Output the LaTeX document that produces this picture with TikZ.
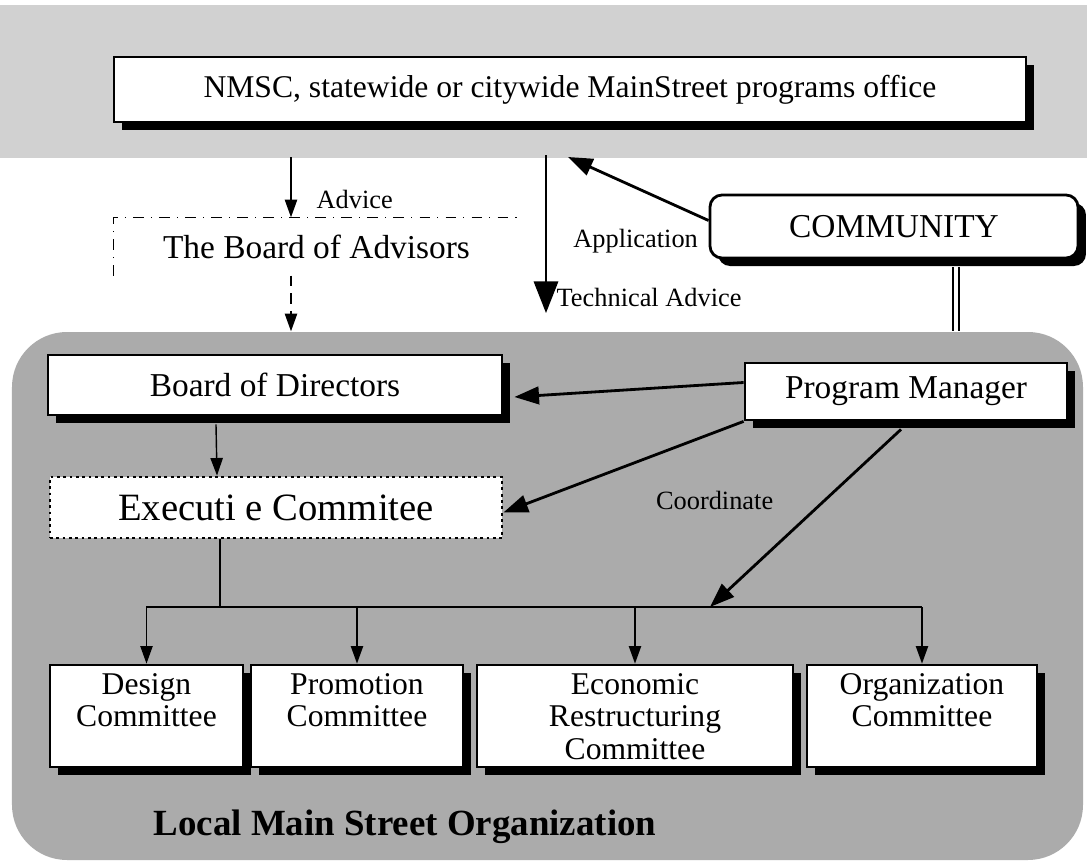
\documentclass[tikz,border=0pt]{standalone}
\usepackage{fontspec}
\setmainfont{Liberation Serif}
\usetikzlibrary{arrows.meta}
\usetikzlibrary{positioning}
\usetikzlibrary{shadows}

\begin{document}
\begin{tikzpicture}[
		box/.style={draw, thick, fill=white, inner sep=0pt, font=\fontsize{9.5}{10}\selectfont,
			drop shadow={shadow xshift=0.08cm, shadow yshift=-0.08cm, fill=black, opacity=1}},
		combox/.style={box, minimum height=1.02cm},
		comtext/.style={align=center, inner sep=0pt, font=\fontsize{9}{9.3}\selectfont},
		lbl/.style={inner sep=0pt, font=\fontsize{7.5}{9}\selectfont},
		flow/.style={-{Triangle[width=3.5pt,length=5pt]}},
		bold/.style={thick, -{Triangle[width=5pt,length=7pt]}},
	]
	\useasboundingbox (0,0) rectangle (10.87,-8.66);

	% shaded areas
	\fill[black!18] (0,-0.05) rectangle (10.87,-1.58);
	\node[fill=black!33, rounded corners=0.55cm, minimum width=10.71cm, minimum height=5.28cm, inner sep=0pt] (local) at (5.475,-5.96) {};
	\node[font=\bfseries\fontsize{10.5}{12}\selectfont] (locallbl) at (4.05,-8.27) {Local Main Street Organization};

	\node[box, minimum width=9.12cm, minimum height=0.65cm, font=\fontsize{9}{10}\selectfont] (nmsc) at (5.7,-0.895) {NMSC, statewide or citywide MainStreet programs office};

	\coordinate (advtop) at (2.91,-1.57);
	\coordinate (techtop) at (5.46,-1.55);
	\coordinate (techtip) at (5.46,-3.13);
	\coordinate (apptip) at (5.68,-1.57);
	\coordinate (bus) at (0,-6.07);
	\coordinate (bushit) at (7.10,-6.07);

	% advisors
	\node[minimum width=4.04cm, minimum height=0.57cm, inner sep=0pt, font=\fontsize{9.5}{10}\selectfont] (advisors) at (3.165,-2.465) {The Board of Advisors};
	\draw[dash dot] (advisors.south west) -- (advisors.north west) -- (advisors.north east);
	\draw[flow] (advtop) -- (advtop |- advisors.north) node[lbl, pos=0.7, right=0.25cm] (advlbl) {Advice};
	\draw[flow, densely dashed] (advtop |- advisors.south) -- (advtop |- local.north);

	\draw[-{Triangle[width=7pt,length=9pt]}] (techtop) -- (techtip) node[lbl, pos=0.9, right=0.1cm] (techlbl) {Technical Advice};

	\node[box, rounded corners=0.12cm, minimum width=3.68cm, minimum height=0.63cm] (community) at (8.94,-2.265) {COMMUNITY};
	\draw[bold] ([yshift=0.06cm]community.west) -- (apptip);
	\node[lbl, left=0.1cm of community.west, yshift=-0.15cm] (applbl) {Application};
	\draw[double, double distance=1.3pt] ([xshift=0.62cm,yshift=-0.08cm]community.south) -- ([xshift=0.62cm]community.south |- local.north);

	% local organisation
	\node[box, minimum width=4.54cm, minimum height=0.6cm] (bod) at (2.75,-3.85) {Board of Directors};
	\node[box, minimum width=3.22cm, minimum height=0.57cm] (pm) at (9.06,-3.915) {Program Manager};
	\node[draw, thick, densely dotted, fill=white, minimum width=4.52cm, minimum height=0.61cm, inner sep=0pt, font=\fontsize{11}{12}\selectfont] (exec) at (2.76,-5.075) {Executi e Commitee};

	\draw[bold] ([yshift=0.09cm]pm.west) -- ([xshift=0.11cm,yshift=-0.12cm]bod.east);
	\draw[flow] ([xshift=-0.59cm,yshift=-0.08cm]bod.south) -- ([xshift=-0.59cm]exec.north);
	\draw[bold] (pm.south west) -- ([yshift=-0.05cm]exec.east);
	\draw[bold] ([xshift=-0.05cm,yshift=-0.08cm]pm.south) -- (bushit) node[lbl, pos=0.4, left=0.5cm] (coordlbl) {Coordinate};

	% committees
	\node[combox, minimum width=1.93cm] (design) at (1.465,-7.16) {};
	\node[combox, minimum width=2.12cm] (promotion) at (3.57,-7.16) {};
	\node[combox, minimum width=3.16cm] (economic) at (6.35,-7.16) {};
	\node[combox, minimum width=2.30cm] (organization) at (9.22,-7.16) {};
	\node[comtext, below=0.09cm of design.north] (designtxt) {Design\\Committee};
	\node[comtext, below=0.09cm of promotion.north] (promotiontxt) {Promotion\\Committee};
	\node[comtext, below=0.09cm of economic.north] (economictxt) {Economic\\Restructuring\\Committee};
	\node[comtext, below=0.09cm of organization.north] (organizationtxt) {Organization\\Committee};

	\draw ([xshift=-0.56cm]exec.south) -- ([xshift=-0.56cm]exec.south |- bus);
	\draw (design.north |- bus) -- (organization.north |- bus);
	\foreach \c in {design, promotion, economic, organization}
		\draw[flow] (\c.north |- bus) -- (\c.north);
\end{tikzpicture}
\end{document}
